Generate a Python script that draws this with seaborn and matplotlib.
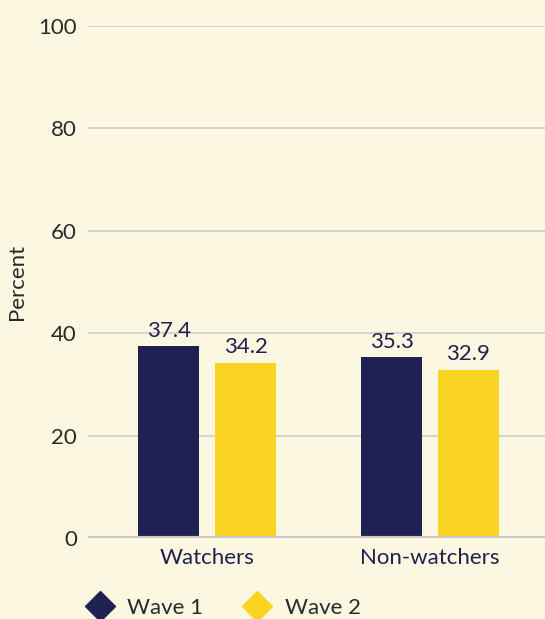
import numpy as np
import pandas as pd
import matplotlib.pyplot as plt
from matplotlib.lines import Line2D
import seaborn as sns

# ── data ────────────────────────────────────────────
groups = ["Watchers", "Non-watchers"]
waves = ["Wave 1", "Wave 2"]
wave1 = [37.4, 35.3]
wave2 = [34.2, 32.9]
yticks = [0, 20, 40, 60, 80, 100]

navy = "#1E2152"
yellow = "#F9D423"
bg = "#FCF7E0"
fs = 16

df = pd.DataFrame({
    "group": groups * 2,
    "wave": [waves[0]] * 2 + [waves[1]] * 2,
    "value": wave1 + wave2,
})

sns.set_style("white")
plt.rcParams['font.family'] = ['Lato', 'DejaVu Sans']

fig = plt.figure(figsize=(5.45, 6.19), dpi=100, facecolor=bg)
ax = fig.add_axes([0.1615, 0.1309, 0.8385, 0.8271], facecolor=bg)

sns.barplot(data=df, x="group", y="value", hue="wave", order=groups,
            hue_order=waves, palette=[navy, yellow], saturation=1,
            width=0.69, gap=0.21, legend=False, ax=ax, zorder=3,
            edgecolor="none", linewidth=0)

for cont in ax.containers:
    ax.bar_label(cont, fmt="%.1f", padding=4, fontsize=fs, color=navy)

ax.set_ylim(0, 100)
ax.set_xlim(-0.534, 1.516)
ax.set_yticks(yticks)
ax.yaxis.grid(True, color="#D4D4D0", linewidth=1.5, zorder=0)
ax.axhline(0, color="#C8C8C8", linewidth=3, zorder=4)
for s in ax.spines.values():
    s.set_visible(False)
ax.tick_params(axis="both", length=0, labelsize=fs)
ax.tick_params(axis="y", pad=8, labelcolor="#2a2a2a")
ax.tick_params(axis="x", pad=7, labelcolor=navy)
ax.set_xlabel("")
ax.set_ylabel("Percent", fontsize=fs, color="#2a2a2a", labelpad=8)

handles = [Line2D([], [], marker="D", linestyle="", markersize=15,
                  markerfacecolor=c, markeredgecolor=c) for c in [navy, yellow]]
fig.legend(handles, waves, loc="center left", bbox_to_anchor=(0.143, 0.018),
           ncol=2, frameon=False, fontsize=fs, borderpad=0, handlelength=1.0,
           handletextpad=0.72, columnspacing=1.94, labelcolor="#2a2a2a")

fig.savefig("out.png", dpi=100, facecolor=bg)
